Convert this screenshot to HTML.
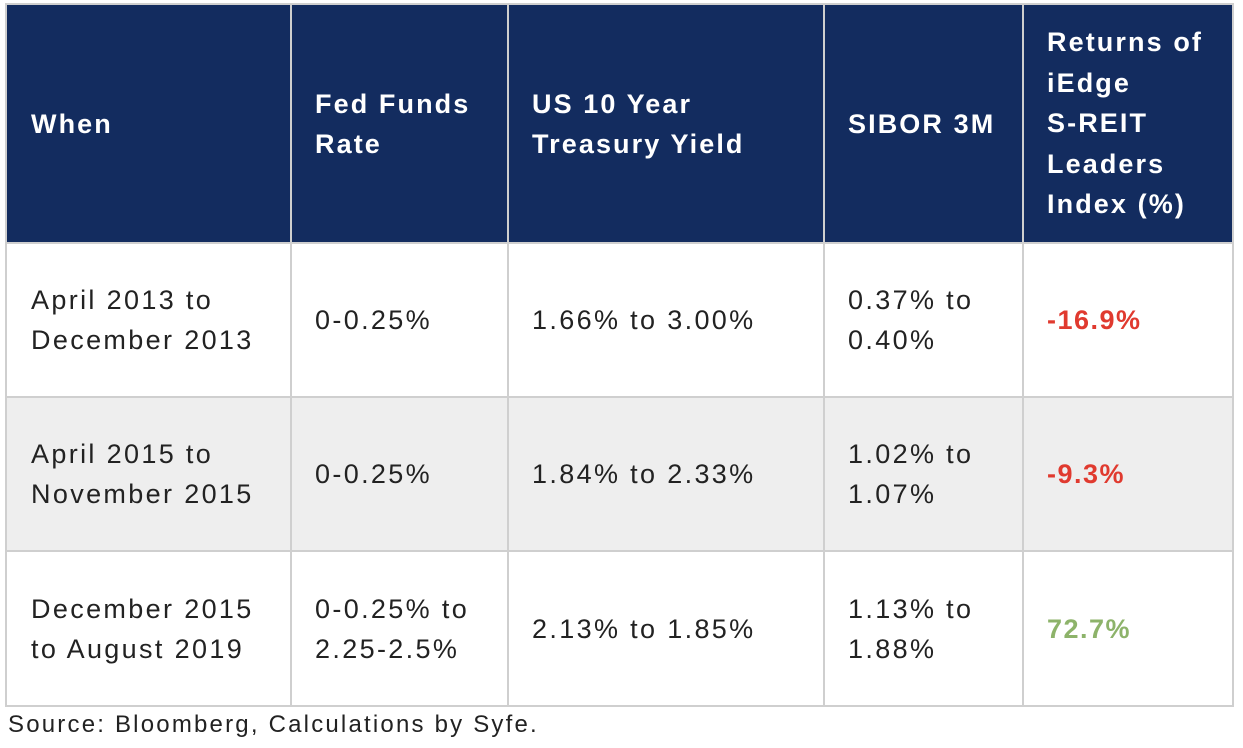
<!DOCTYPE html>
<html><head><style>
body{margin:0;width:1243px;height:748px;background:#fff;position:relative;font-family:"Liberation Sans",sans-serif;overflow:hidden}
.c{position:absolute;box-sizing:border-box;display:flex;align-items:center;font-size:27px;line-height:40px;color:#222;letter-spacing:2.35px;white-space:nowrap}
.h{background:#132c5f;color:#fff;font-weight:bold;letter-spacing:2.1px}
.g{background:#eeeeee}
.vl{position:absolute;width:2px;background:#cfcfcf}
.hl{position:absolute;height:2px;background:#cfcfcf}
.p{font-weight:bold;letter-spacing:1.5px}
</style></head><body>
<div class="c h" style="left:6px;top:4px;width:1227px;height:239px"></div>
<div class="c g" style="left:6px;top:397px;width:1227px;height:154px"></div>

<div class="c h" style="left:31px;top:4px;height:239px">When</div>
<div class="c h" style="left:315px;top:4px;height:239px">Fed Funds<br>Rate</div>
<div class="c h" style="left:532px;top:4px;height:239px">US 10 Year<br>Treasury Yield</div>
<div class="c h" style="left:848px;top:4px;height:239px">SIBOR 3M</div>
<div class="c h" style="left:1047px;top:4px;height:239px;line-height:40.5px">Returns of<br>iEdge<br>S-REIT<br>Leaders<br>Index (%)</div>

<div class="c" style="left:31px;top:243px;height:154px">April 2013 to<br>December 2013</div>
<div class="c" style="left:315px;top:243px;height:154px">0-0.25%</div>
<div class="c" style="left:532px;top:243px;height:154px">1.66% to 3.00%</div>
<div class="c" style="left:848px;top:243px;height:154px">0.37% to<br>0.40%</div>
<div class="c p" style="left:1047px;top:243px;height:154px;color:#e03a2f">-16.9%</div>

<div class="c" style="left:31px;top:397px;height:154px">April 2015 to<br>November 2015</div>
<div class="c" style="left:315px;top:397px;height:154px">0-0.25%</div>
<div class="c" style="left:532px;top:397px;height:154px">1.84% to 2.33%</div>
<div class="c" style="left:848px;top:397px;height:154px">1.02% to<br>1.07%</div>
<div class="c p" style="left:1047px;top:397px;height:154px;color:#e03a2f">-9.3%</div>

<div class="c" style="left:31px;top:551px;height:155px">December 2015<br>to August 2019</div>
<div class="c" style="left:315px;top:551px;height:155px">0-0.25% to<br>2.25-2.5%</div>
<div class="c" style="left:532px;top:551px;height:155px">2.13% to 1.85%</div>
<div class="c" style="left:848px;top:551px;height:155px">1.13% to<br>1.88%</div>
<div class="c p" style="left:1047px;top:551px;height:155px;color:#8db36a">72.7%</div>

<div class="hl" style="left:5px;top:3px;width:1229px"></div>
<div class="hl" style="left:5px;top:242px;width:1229px"></div>
<div class="hl" style="left:5px;top:396px;width:1229px"></div>
<div class="hl" style="left:5px;top:550px;width:1229px"></div>
<div class="hl" style="left:5px;top:705px;width:1229px"></div>
<div class="vl" style="left:5px;top:3px;height:704px"></div>
<div class="vl" style="left:290px;top:3px;height:704px"></div>
<div class="vl" style="left:507px;top:3px;height:704px"></div>
<div class="vl" style="left:823px;top:3px;height:704px"></div>
<div class="vl" style="left:1022px;top:3px;height:704px"></div>
<div class="vl" style="left:1232px;top:3px;height:704px"></div>

<div style="position:absolute;left:8px;top:710px;font-size:24px;line-height:30px;color:#222;letter-spacing:2.2px;white-space:nowrap">Source: Bloomberg, Calculations by Syfe.</div>
</body></html>
